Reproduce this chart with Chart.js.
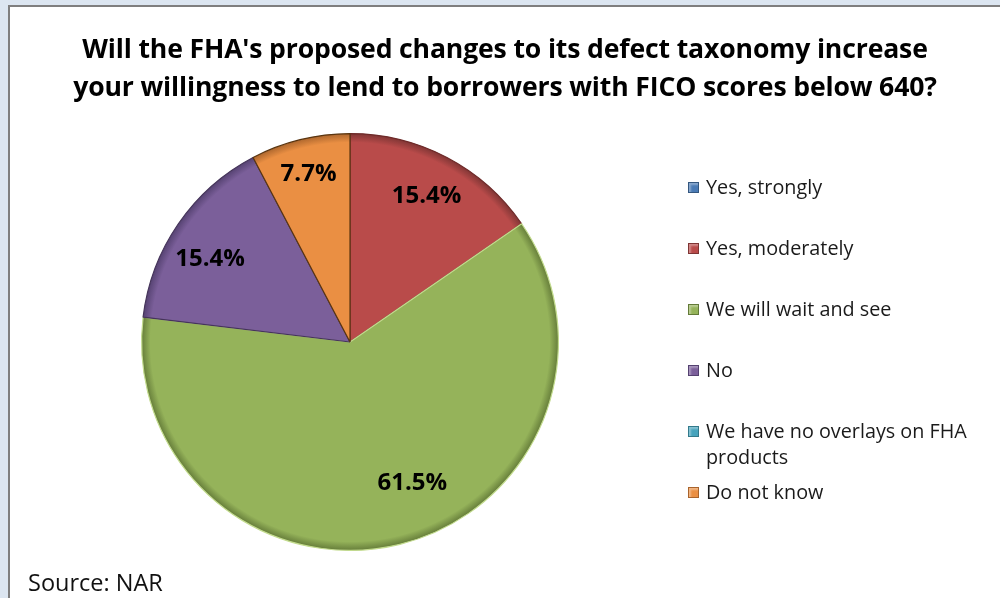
<!DOCTYPE html>
<html>
<head>
<meta charset="utf-8">
<script src="https://cdn.jsdelivr.net/npm/chart.js@4.4.1/dist/chart.umd.min.js"></script>
<style>
  body { margin: 0; width: 1000px; height: 598px; background: #dce6f1; position: relative; overflow: hidden; font-family: "Open Sans", sans-serif; }
  #frame { position: absolute; left: 8px; top: 5px; right: 0; bottom: 0; background: #fff; border-left: 2px solid #7f7f7f; border-top: 2px solid #7f7f7f; }
  #chart { position: absolute; left: 0; top: 0; }
  #title { position: absolute; left: 10px; right: 0; top: 29px; text-align: center; font-weight: bold; font-size: 26.6px; line-height: 38px; color: #000; letter-spacing: -0.15px; }
  #legend { position: absolute; left: 688px; top: 174px; width: 300px; color: #1a1a1a; font-size: 19.8px; }
  #legend .item { display: flex; align-items: flex-start; height: 61px; }
  #legend .box { width: 11px; height: 11px; margin: 8px 7px 0 0; flex: none; box-sizing: border-box; }
  #legend .text { line-height: 26px; width: 275px; }
  #source { position: absolute; left: 28px; top: 570px; font-size: 23.5px; line-height: 24px; color: #111; }
</style>
</head>
<body>
<div id="frame"></div>
<canvas id="chart" width="1000" height="598"></canvas>
<div id="title">Will the FHA's proposed changes to its defect taxonomy increase<br>your willingness to lend to borrowers with FICO scores below 640?</div>
<div id="legend"></div>
<div id="source">Source: NAR</div>
<script>
// DATA
const categories = ["Yes, strongly", "Yes, moderately", "We will wait and see", "No", "We have no overlays on FHA products", "Do not know"];
const shares = [0, 15.4, 61.5, 15.4, 0, 7.7];

// COLOURS (fill / rim shade / edge line)
const sliceColors = ["#4a7ab4", "#b94b4a", "#95b35a", "#7b5f9a", "#46a3bc", "#ea8f43"];
const rimColors = ["#34577f", "#7e3534", "#637a38", "#544170", "#337a8b", "#a9642c"];
const edgeColors = ["#2c4a70", "#6e2a29", "#c3dc8e", "#45345a", "#2a6473", "#5a3510"];

// DOM REFERENCES
const legendDiv = document.getElementById("legend");
const ctx = document.getElementById("chart").getContext("2d");

// HELPERS
function pieFill(context) {
  const area = context.chart.chartArea;
  const i = context.dataIndex;
  if (!area) return sliceColors[i];
  const cx = (area.left + area.right) / 2;
  const cy = (area.top + area.bottom) / 2;
  const r = Math.min(area.right - area.left, area.bottom - area.top) / 2;
  const g = context.chart.ctx.createRadialGradient(cx, cy, 0, cx, cy, r);
  g.addColorStop(0, sliceColors[i]);
  g.addColorStop(0.955, sliceColors[i]);
  g.addColorStop(1, rimColors[i]);
  return g;
}

function buildLegend() {
  let html = "";
  categories.forEach((name, i) => {
    html += `
      <div class="item">
        <span class="box" style="background:${sliceColors[i]};border:1px solid ${rimColors[i]};box-shadow: inset 2px 2px 2px rgba(255,255,255,0.35)"></span>
        <span class="text">${name}</span>
      </div>`;
  });
  legendDiv.innerHTML = html;
}

// percentage labels inside slices
const sliceLabels = {
  id: "sliceLabels",
  afterDatasetsDraw(chart, args, opts) {
    const c = chart.ctx;
    const arcs = chart.getDatasetMeta(0).data;
    c.save();
    c.font = "bold 24px 'Open Sans'";
    c.fillStyle = "#000";
    c.textAlign = "center";
    c.textBaseline = "middle";
    arcs.forEach((arc, i) => {
      const v = shares[i];
      if (!v) return;
      const { x, y, startAngle, endAngle, outerRadius } = arc.getProps(["x", "y", "startAngle", "endAngle", "outerRadius"]);
      const a = (startAngle + endAngle) / 2 + (opts.turn[i] || 0) * Math.PI / 180;
      const d = outerRadius * (opts.dist[i] || 0.79);
      c.fillText(v.toFixed(1) + "%", x + Math.cos(a) * d, y + Math.sin(a) * d);
    });
    c.restore();
  }
};

// INIT
buildLegend();

new Chart(ctx, {
  type: "pie",
  data: {
    labels: categories,
    datasets: [{
      data: shares,
      backgroundColor: pieFill,
      borderColor: (c) => edgeColors[c.dataIndex],
      borderWidth: (c) => (shares[c.dataIndex] ? 1.2 : 0)
    }]
  },
  options: {
    responsive: false,
    animation: false,
    layout: { padding: { top: 133, bottom: 47, left: 141, right: 441 } },
    plugins: {
      legend: { display: false },
      tooltip: { enabled: false },
      sliceLabels: {
        turn: [0, 0, -10, -4, 0, 0],
        dist: [0.79, 0.79, 0.74, 0.78, 0.79, 0.83]
      }
    }
  },
  plugins: [sliceLabels]
});
</script>
</body>
</html>
